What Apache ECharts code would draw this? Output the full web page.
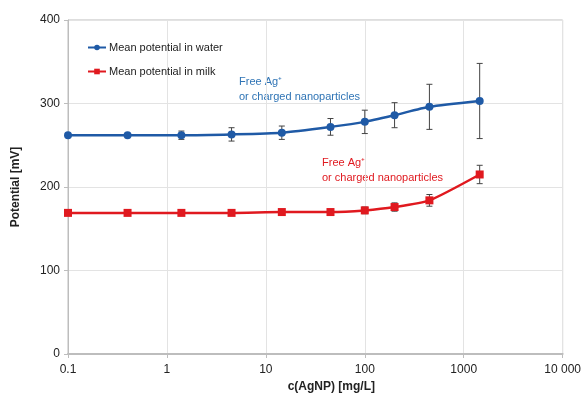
<!DOCTYPE html>
<html>
<head>
<meta charset="utf-8">
<script src="https://cdn.jsdelivr.net/npm/echarts@6/dist/echarts.min.js"></script>
<style>
  html, body { margin: 0; padding: 0; background: #fff; }
  #chart { width: 584px; height: 401px; }
</style>
</head>
<body>
<div id="chart"></div>
<script>
// Silver nanoparticle concentration (mg/L) and measured potential (mV)
const concentrations = [0.1, 0.4, 1.4, 4.5, 14.5, 45, 100, 200, 450, 1450];
const waterMean = [262, 262, 262, 263, 265, 272, 278, 286, 296, 303];
const waterErr  = [0, 0, 5, 8, 8, 10, 14, 15, 27, 45];
const milkMean  = [169, 169, 169, 169, 170, 170, 172, 176, 184, 215];
const milkErr   = [0, 0, 0, 0, 0, 0, 4, 5, 7, 11];
const yTicks = [0, 100, 200, 300, 400];
const xTickLabels = { 0.1: '0.1', 1: '1', 10: '10', 100: '100', 1000: '1000', 10000: '10 000' };

const FONT = 'Liberation Sans, Arial, sans-serif';
const BLUE = '#1f5aa6';
const RED = '#e0191f';

function pairs(xs, ys) { return xs.map((x, i) => [x, ys[i]]); }
function bars(xs, ys, es) {
  const out = [];
  xs.forEach((x, i) => { if (es[i] > 0) out.push([x, ys[i] - es[i], ys[i] + es[i]]); });
  return out;
}

function errorBarRender(params, api) {
  const x = api.value(0);
  const lo = api.coord([x, api.value(1)]);
  const hi = api.coord([x, api.value(2)]);
  const cap = 3;
  const style = { stroke: '#444', lineWidth: 1 };
  return {
    type: 'group',
    children: [
      { type: 'line', shape: { x1: lo[0], y1: lo[1], x2: hi[0], y2: hi[1] }, style },
      { type: 'line', shape: { x1: lo[0] - cap, y1: lo[1], x2: lo[0] + cap, y2: lo[1] }, style },
      { type: 'line', shape: { x1: hi[0] - cap, y1: hi[1], x2: hi[0] + cap, y2: hi[1] }, style }
    ]
  };
}

const chart = echarts.init(document.getElementById('chart'), null, { renderer: 'canvas' });

chart.setOption({
  animation: false,
  backgroundColor: '#fff',
  textStyle: { fontFamily: FONT },
  grid: { left: 68, right: 21, top: 20, bottom: 47, show: true, borderColor: '#bdbdbd', borderWidth: 1 },
  legend: {
    left: 82, top: 37, orient: 'vertical', itemGap: 13, itemWidth: 18, itemHeight: 7,
    textStyle: { fontSize: 11, color: '#222', fontFamily: FONT, padding: [0, 0, 0, -2] },
    data: ['Mean potential in water', 'Mean potential in milk']
  },
  xAxis: {
    type: 'log', logBase: 10, min: 0.1, max: 10000,
    name: 'c(AgNP) [mg/L]', nameLocation: 'middle', nameGap: 26,
    nameTextStyle: { fontSize: 12, fontWeight: 'bold', color: '#222', padding: [0, 0, 0, 32] },
    axisLine: { lineStyle: { color: '#bdbdbd', width: 2 } },
    axisTick: { show: true, length: 4, lineStyle: { color: '#bdbdbd' } },
    axisLabel: { fontSize: 12, color: '#222', margin: 10,
      formatter: v => xTickLabels[v] !== undefined ? xTickLabels[v] : String(v) },
    splitLine: { show: true, lineStyle: { color: '#e3e3e3' } },
    minorTick: { show: false }
  },
  yAxis: {
    type: 'value', min: 0, max: 400, interval: 100,
    name: 'Potential [mV]', nameLocation: 'middle', nameGap: 46,
    nameTextStyle: { fontSize: 12, fontWeight: 'bold', color: '#222' },
    axisLine: { show: true, lineStyle: { color: '#bdbdbd', width: 1 } },
    axisTick: { show: true, length: 4, lineStyle: { color: '#bdbdbd' } },
    axisLabel: { fontSize: 12, color: '#222', margin: 8,
      formatter: v => yTicks.includes(v) ? String(v) : '' },
    splitLine: { show: true, lineStyle: { color: '#e3e3e3' } }
  },
  graphic: [
    { type: 'text', left: 239, top: 74,
      style: { text: 'Free Ag⁺\nor charged nanoparticles', fill: '#2f74b5', fontSize: 11, lineHeight: 15, fontFamily: FONT } },
    { type: 'text', left: 322, top: 155,
      style: { text: 'Free Ag⁺\nor charged nanoparticles', fill: '#e0191f', fontSize: 11, lineHeight: 15, fontFamily: FONT } }
  ],
  series: [
    {
      type: 'custom', name: 'water error', renderItem: errorBarRender,
      data: bars(concentrations, waterMean, waterErr), z: 1, silent: true,
      encode: { x: 0, y: [1, 2] }
    },
    {
      type: 'custom', name: 'milk error', renderItem: errorBarRender,
      data: bars(concentrations, milkMean, milkErr), z: 1, silent: true,
      encode: { x: 0, y: [1, 2] }
    },
    {
      name: 'Mean potential in water', type: 'line', smooth: 0.2,
      data: pairs(concentrations, waterMean),
      symbol: 'circle', symbolSize: 8,
      lineStyle: { color: BLUE, width: 2.5 },
      itemStyle: { color: BLUE }, z: 3
    },
    {
      name: 'Mean potential in milk', type: 'line', smooth: 0.2,
      data: pairs(concentrations, milkMean),
      symbol: 'rect', symbolSize: 8,
      lineStyle: { color: RED, width: 2.5 },
      itemStyle: { color: RED }, z: 3
    }
  ]
});
</script>
</body>
</html>
